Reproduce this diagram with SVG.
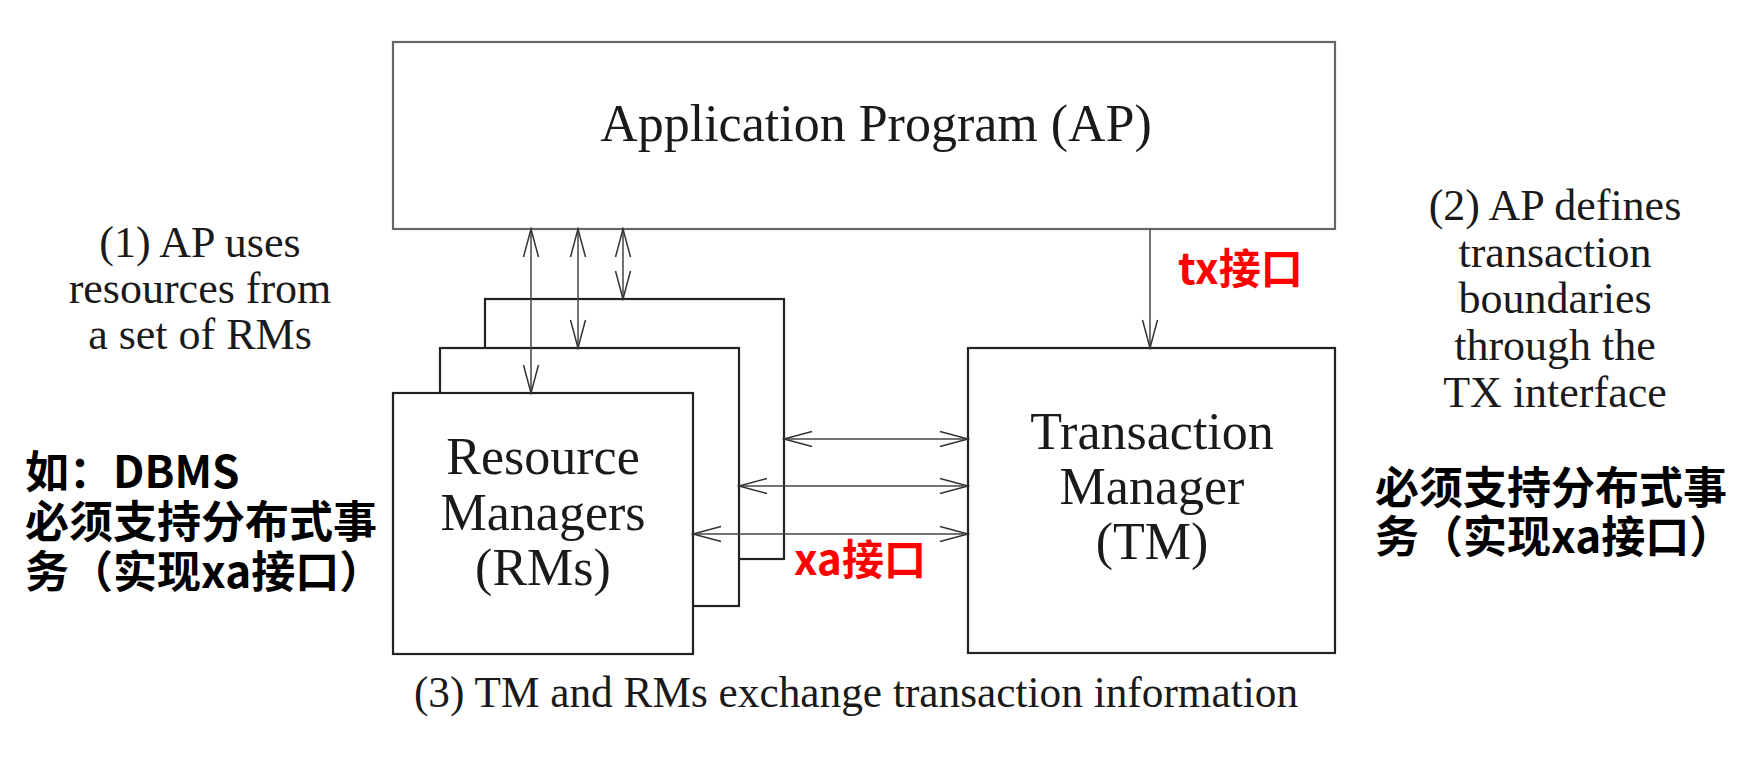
<svg xmlns="http://www.w3.org/2000/svg" width="1761" height="765" viewBox="0 0 1761 765">
<style>
.box{fill:#fff;stroke:#222;stroke-width:2.2}
.ap{fill:#fff;stroke:#666;stroke-width:2.2}
.ser{font-family:"Liberation Serif","Times New Roman",serif;fill:#1a1a1a;text-anchor:middle}
.lbl{font-size:52px}
.note{font-size:44px}
.cap{font-size:43.3px}
.cn{font-family:"Noto Sans CJK SC","Noto Sans",sans-serif;font-weight:bold;font-size:44px;fill:#000}
.red{font-family:"Noto Sans CJK SC","Noto Sans",sans-serif;font-weight:bold;font-size:42px;fill:#ff0000}
.con{stroke:#444;stroke-width:1.5;fill:none}
</style>
<defs>
<marker id="ah" viewBox="-30 -10 32 20" refX="0" refY="0" markerWidth="32" markerHeight="20" markerUnits="userSpaceOnUse" orient="auto-start-reverse">
<path d="M-28,-7.5 L0,0 L-28,7.5" fill="none" stroke="#333" stroke-width="1.5"/>
</marker>
</defs>
<rect width="1761" height="765" fill="#fff"/>

<g id="ap">
<rect class="ap" x="393" y="42" width="942" height="187"/>
<text class="ser lbl" x="876" y="141">Application Program (AP)</text>
</g>

<g id="rm-back">
<rect class="box" x="485" y="299" width="299" height="260"/>
</g>
<g id="rm-mid">
<rect class="box" x="440" y="348" width="299" height="258"/>
</g>
<g id="rm">
<rect class="box" x="393" y="393" width="300" height="261"/>
<text class="ser lbl"><tspan x="543" y="474">Resource</tspan><tspan x="543" y="530">Managers</tspan><tspan x="543" y="585">(RMs)</tspan></text>
</g>

<g id="tm">
<rect class="box" x="968" y="348" width="367" height="305"/>
<text class="ser lbl"><tspan x="1152" y="449">Transaction</tspan><tspan x="1152" y="504">Manager</tspan><tspan x="1152" y="559">(TM)</tspan></text>
</g>

<g id="connectors">
<line class="con" x1="531" y1="229" x2="531" y2="393" marker-start="url(#ah)" marker-end="url(#ah)"/>
<line class="con" x1="578" y1="229" x2="578" y2="348" marker-start="url(#ah)" marker-end="url(#ah)"/>
<line class="con" x1="623" y1="229" x2="623" y2="299" marker-start="url(#ah)" marker-end="url(#ah)"/>
<line class="con" x1="1150" y1="229" x2="1150" y2="348" marker-end="url(#ah)"/>
<line class="con" x1="784" y1="439" x2="968" y2="439" marker-start="url(#ah)" marker-end="url(#ah)"/>
<line class="con" x1="739" y1="486" x2="968" y2="486" marker-start="url(#ah)" marker-end="url(#ah)"/>
<line class="con" x1="693" y1="534" x2="968" y2="534" marker-start="url(#ah)" marker-end="url(#ah)"/>
</g>

<g id="note1">
<text class="ser note"><tspan x="200" y="257">(1) AP uses</tspan><tspan x="200" y="303">resources from</tspan><tspan x="200" y="349">a set of RMs</tspan></text>
</g>

<g id="note2">
<text class="ser note"><tspan x="1555" y="220">(2) AP defines</tspan><tspan x="1555" y="267">transaction</tspan><tspan x="1555" y="313">boundaries</tspan><tspan x="1555" y="360">through the</tspan><tspan x="1555" y="407">TX interface</tspan></text>
</g>

<g id="note3">
<text class="ser cap" x="856" y="707">(3) TM and RMs exchange transaction information</text>
</g>

<g id="tx-label">
<text class="red" x="1178" y="284">tx接口</text>
</g>
<g id="xa-label">
<text class="red" x="794" y="575">xa接口</text>
</g>

<g id="cn-left">
<text class="cn"><tspan x="25" y="488">如：DBMS</tspan><tspan x="25" y="538">必须支持分布式事</tspan><tspan x="25" y="588">务（实现xa接口）</tspan></text>
</g>
<g id="cn-right">
<text class="cn"><tspan x="1375" y="504">必须支持分布式事</tspan><tspan x="1375" y="553">务（实现xa接口）</tspan></text>
</g>
</svg>
